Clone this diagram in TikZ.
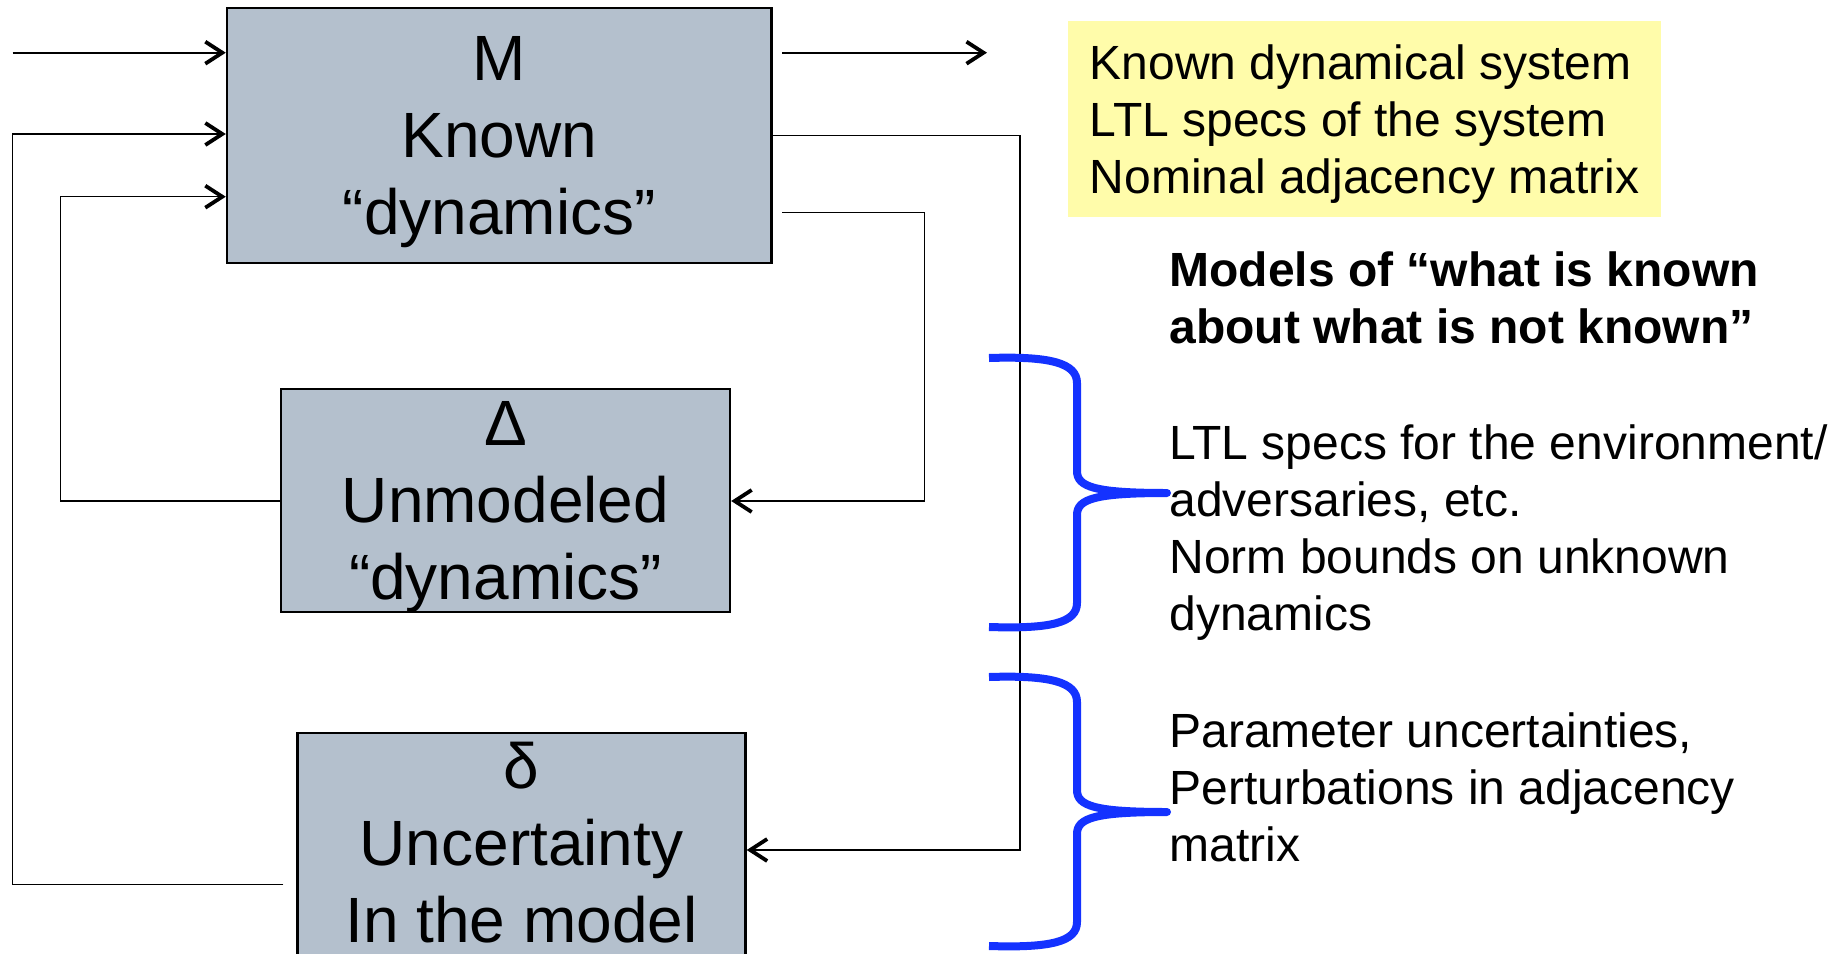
\documentclass[tikz,border=0pt]{standalone}
\usepackage{fontspec}
\setmainfont{Liberation Sans}
\usetikzlibrary{positioning,calc,arrows.meta}
\definecolor{boxgray}{RGB}{180,192,205}
\definecolor{noteyellow}{RGB}{255,252,170}
\definecolor{braceblue}{RGB}{20,50,255}
\tikzset{blk/.style={draw, line width=1.2pt, fill=boxgray, align=center, inner sep=0pt, font=\fontsize{32}{38.5}\selectfont}}
\tikzset{txt/.style={align=left, inner sep=0pt, anchor=north west, font=\fontsize{24}{28.5}\selectfont}}
\tikzset{arr/.style={-{Straight Barb[length=8.5pt,width=11pt,line width=1.9pt]}}}
\tikzset{io/.style={draw, arr, line width=0.9pt}}
\tikzset{wire/.style={draw, arr, line width=0.6pt}}
\tikzset{brc/.style={draw=braceblue, line width=4pt, line join=round}}
\tikzset{pics/rbrace/.style={code={
	\draw[brc] (0,0) .. controls (61,-2) and (88,5) .. (88,25) -- (88,113)
		.. controls (88,129) and (106,135) .. (178,135)
		.. controls (106,135) and (88,141) .. (88,157) -- (88,245)
		.. controls (88,265) and (61,271) .. (0,269);
}}}

\begin{document}
\begin{tikzpicture}[x=0.5pt, y=-0.5pt]
	\useasboundingbox (0,0) rectangle (1844,954);
	% the three blocks
	\node[blk, text depth=0pt, minimum width=272.25pt, minimum height=127.5pt] (sys) at (499.25,135.5)
		{M\\Known\\“dynamics”};
	\node[blk, text depth=0pt, minimum width=224.5pt, minimum height=111.5pt] (unmod) at (505.5,500.5)
		{Δ\\Unmodeled\\ “dynamics”};
	\node[blk, minimum width=224pt, inner ysep=4.75pt, text depth=20pt, anchor=north] (unc) at (521.5,731.5)
		{δ\\Uncertainty\\In the model};
	%
	\coordinate (in1) at (12.7,52.7);
	\coordinate (out1) at (987,52.7);
	\coordinate (lpA) at (12.8,134);
	\coordinate (lpA2) at (12.8,884.7);
	\coordinate (lpB) at (60.6,196.7);
	\coordinate (lpB2) at (60.6,501);
	\coordinate (rpA) at (1020,135.7);
	\coordinate (rpA2) at (1020,850);
	\coordinate (rpB) at (924.7,212.3);
	\coordinate (rpB2) at (924.7,501);
	%
	\draw[io] (in1) -- (in1 -| sys.west);
	\draw[io] ([xshift=4.75pt]sys.east |- out1) -- (out1);
	\draw[wire] ([xshift=-6.5pt]unc.west |- lpA2) -- (lpA2) -- (lpA) -- (lpA -| sys.west);
	\draw[wire] (unmod.west |- lpB2) -- (lpB2) -- (lpB) -- (lpB -| sys.west);
	\draw[wire] (sys.east |- rpA) -- (rpA) -- (rpA2) -- (rpA2 -| unc.east);
	\draw[wire] ([xshift=4.75pt]sys.east |- rpB) -- (rpB) -- (rpB2) -- (rpB2 -| unmod.east);
	%
	\node[txt, fill=noteyellow, inner xsep=10.25pt, inner ysep=11.8pt, text depth=0pt, minimum width=296.75pt] (known) at (1067.5,21)
		{Known dynamical system\\LTL specs of the system\\Nominal adjacency matrix};
	\node[txt, font=\fontsize{24}{28.5}\selectfont\bfseries] (models) at (1169,251.5)
		{Models of “what is known\\about what is not known”};
	\node[txt] (env) at (1169,424)
		{LTL specs for the environment/\\adversaries, etc.\\Norm bounds on unknown\\dynamics};
	\node[txt] (param) at (1169,712.5)
		{Parameter uncertainties,\\Perturbations in adjacency\\matrix};
	%
	\pic at (989,358) {rbrace};
	\pic at (989,677) {rbrace};
\end{tikzpicture}
\end{document}
